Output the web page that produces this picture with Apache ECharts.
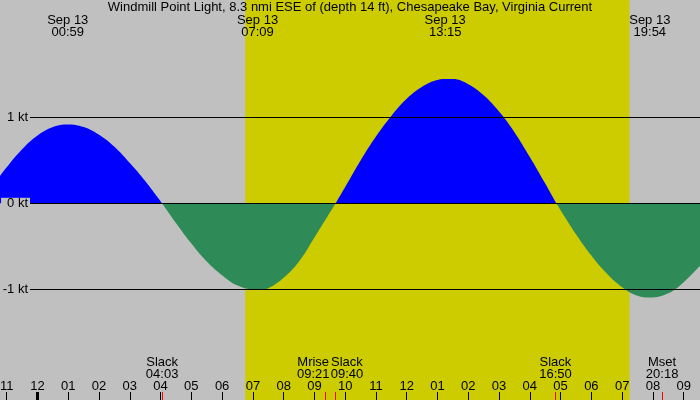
<!DOCTYPE html>
<html>
<head>
<meta charset="utf-8">
<script src="https://cdn.jsdelivr.net/npm/echarts@6/dist/echarts.min.js"></script>
<style>
    html, body { margin: 0; padding: 0; background: #c0c0c0; }
    #chart { width: 700px; height: 400px; }
</style>
</head>
<body>
<div id="chart"></div>
<script>
// hours from midnight Sep 13, current speed in knots
const times = [-1.3, -1, -0.5, 0, 0.5, 0.98, 1.5, 2, 2.5, 3, 3.5, 4.05, 4.5, 5, 5.5, 6, 6.5, 7.15,
    7.5, 8, 8.5, 9, 9.69, 10, 10.5, 11, 11.5, 12, 12.5, 13, 13.33, 13.5, 14, 14.5, 15, 15.5, 16, 16.5,
    16.86, 17, 17.5, 18, 18.5, 19, 19.5, 19.9, 20.5, 21, 21.6];
const speeds = [0.28, 0.42, 0.63, 0.79, 0.89, 0.92, 0.89, 0.80, 0.66, 0.47, 0.26, 0, -0.23, -0.47, -0.68, -0.84, -0.96, -1.01,
    -0.99, -0.87, -0.68, -0.40, 0, 0.19, 0.50, 0.78, 1.02, 1.22, 1.36, 1.44, 1.45, 1.45, 1.39, 1.26, 1.07, 0.83, 0.54, 0.23,
    0, -0.08, -0.36, -0.61, -0.82, -0.98, -1.08, -1.10, -1.05, -0.92, -0.70];

const hourTicks = [-1, 0, 1, 2, 3, 4, 5, 6, 7, 8, 9, 10, 11, 12, 13, 14, 15, 16, 17, 18, 19, 20, 21];
const midnight = [0];

const extremeTimes = [0.983, 7.15, 13.25, 19.9];
const extremeClock = ['00:59', '07:09', '13:15', '19:54'];
const extremeDate = 'Sep 13';

const eventTimes = [4.05, 9.35, 9.667, 16.833, 20.3];
const eventNames = ['Slack', 'Mrise', 'Slack', 'Slack', 'Mset'];
const eventClock = ['04:03', '09:21', '09:40', '16:50', '20:18'];

const sunrise = 6.75;
const sunset = 19.24;

const levels = [1, 0, -1];
const levelLabels = ['1 kt', '0 kt', '-1 kt'];

const titleText = 'Windmill Point Light, 8.3 nmi ESE of (depth 14 ft), Chesapeake Bay, Virginia Current';

// layout: px per hour and where midnight sits
const pxPerHour = 30.77;
const x0 = 37.5;
const xMin = -x0 / pxPerHour;
const xMax = (700 - x0) / pxPerHour;
const pxPerKt = 85.7;
const y0 = 203.3;
const yMin = -(400 - y0) / pxPerKt;
const yMax = y0 / pxPerKt;
const lineStart = (30 - x0) / pxPerHour;
// event labels pushed apart (px) where they would overlap
const eventNudge = [0, -12, 12, 0, 0];
const eventLabelAt = eventTimes.map((t, i) => t + eventNudge[i] / pxPerHour);

const font = 'Liberation Sans';
const fontSize = 13;
const gray = '#c0c0c0';

function hourLabel(h) {
    let v = ((Math.round(h) % 12) + 12) % 12;
    if (v === 0) v = 12;
    return (v < 10 ? '0' : '') + v;
}

function nearestIndex(list, value) {
    let best = 0;
    list.forEach((v, i) => {
        if (Math.abs(v - value) < Math.abs(list[best] - value)) best = i;
    });
    return best;
}

// flood part and ebb part of the curve, split at slack water
const flood = times.map((t, i) => [t, speeds[i] >= 0 ? speeds[i] : null]);
const ebb = times.map((t, i) => [t, speeds[i] <= 0 ? speeds[i] : null]);

const baseAxis = {
    type: 'value',
    min: xMin,
    max: xMax,
    z: 10,
    axisLine: { show: false, onZero: false },
    splitLine: { show: false }
};

function curveSeries(name, data, color) {
    return {
        type: 'line',
        name: name,
        z: 3,
        data: data,
        smooth: 0.4,
        connectNulls: false,
        symbol: 'none',
        silent: true,
        lineStyle: { width: 0, color: color },
        itemStyle: { color: color },
        areaStyle: { opacity: 1, color: color, origin: 0 }
    };
}

// the lines go under the curve, their labels (on gray boxes) over it
function levelLines(withLabels, z) {
    return {
        type: 'line',
        data: [],
        z: z,
        silent: true,
        markLine: {
            silent: true,
            symbol: 'none',
            animation: false,
            lineStyle: { color: withLabels ? 'rgba(0,0,0,0)' : '#000', width: 1, type: 'solid' },
            label: {
                show: withLabels, position: 'start', distance: 0,
                fontFamily: font, fontSize: fontSize, color: '#000',
                backgroundColor: gray, padding: [0, 2, 0, 6], lineHeight: 11
            },
            data: levels.map((lv, i) => [
                { coord: [lineStart, lv], label: { formatter: levelLabels[i] } },
                { coord: [xMax, lv] }
            ])
        }
    };
}

const chart = echarts.init(document.getElementById('chart'));

chart.setOption({
    backgroundColor: gray,
    animation: false,
    textStyle: { fontFamily: font },
    title: {
        text: titleText,
        left: 'center',
        top: 1,
        padding: 0,
        textStyle: { fontFamily: font, fontSize: fontSize, fontWeight: 'normal', color: '#000' }
    },
    grid: { left: 0, right: 0, top: 0, bottom: 0, containLabel: false, outerBoundsMode: 'none' },
    xAxis: [
        Object.assign({}, baseAxis, {
            position: 'bottom',
            axisTick: { show: true, inside: true, length: 8, customValues: hourTicks, lineStyle: { color: '#000', width: 1 } },
            axisLabel: {
                show: true, inside: true, margin: 7, customValues: hourTicks,
                showMinLabel: true, showMaxLabel: true,
                fontFamily: font, fontSize: fontSize, color: '#000',
                formatter: v => hourLabel(v)
            }
        }),
        Object.assign({}, baseAxis, {
            position: 'bottom',
            axisTick: { show: true, inside: true, length: 8, customValues: midnight, lineStyle: { color: '#000', width: 3 } },
            axisLabel: { show: false }
        }),
        Object.assign({}, baseAxis, {
            position: 'bottom',
            axisTick: { show: true, inside: true, length: 8, customValues: eventTimes, lineStyle: { color: '#ff0000', width: 1 } },
            axisLabel: {
                show: true, inside: true, margin: 20, customValues: eventLabelAt,
                fontFamily: font, fontSize: fontSize, color: '#000', lineHeight: 12,
                formatter: v => {
                    const i = nearestIndex(eventLabelAt, v);
                    return eventNames[i] + '\n' + eventClock[i];
                }
            }
        }),
        Object.assign({}, baseAxis, {
            position: 'top',
            axisTick: { show: false },
            axisLabel: {
                show: true, inside: true, margin: 14, customValues: extremeTimes,
                fontFamily: font, fontSize: fontSize, color: '#000', lineHeight: 12,
                formatter: v => {
                    const i = nearestIndex(extremeTimes, v);
                    return extremeDate + '\n' + extremeClock[i];
                }
            }
        })
    ],
    yAxis: { type: 'value', min: yMin, max: yMax, show: false },
    series: [
        {
            type: 'line',
            data: [],
            z: 1,
            silent: true,
            markArea: {
                silent: true,
                itemStyle: { color: '#cccc00', opacity: 1 },
                data: [[{ xAxis: sunrise }, { xAxis: sunset }]]
            }
        },
        levelLines(false, 2),
        curveSeries('Flood', flood, '#0000ff'),
        curveSeries('Ebb', ebb, '#2e8b57'),
        levelLines(true, 4)
    ]
});
</script>
</body>
</html>
